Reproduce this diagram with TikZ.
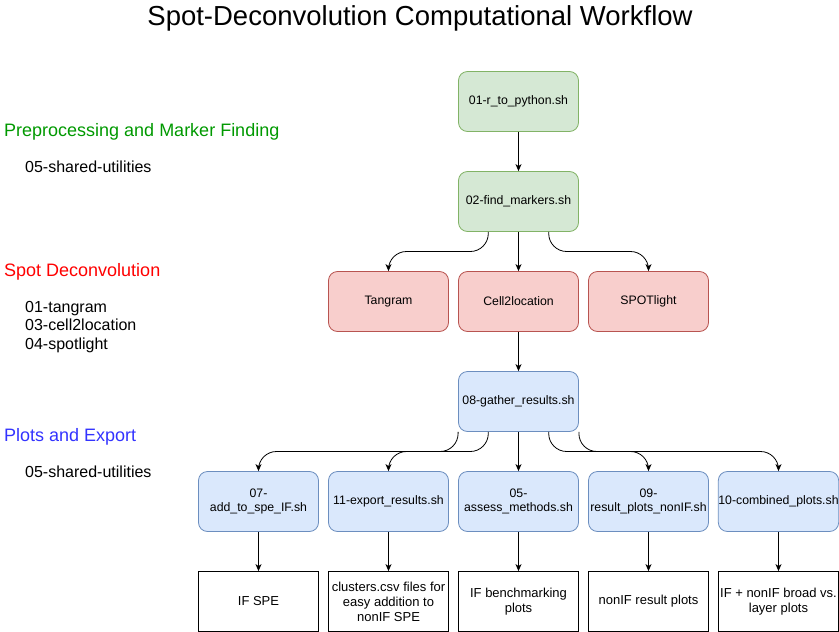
\documentclass[tikz,border=0pt]{standalone}
\usepackage{fontspec}
\setmainfont{Liberation Sans}
\usetikzlibrary{arrows.meta,calc}
\definecolor{gfill}{HTML}{D5E8D4}
\definecolor{gline}{HTML}{82B366}
\definecolor{rfill}{HTML}{F8CECC}
\definecolor{rline}{HTML}{B85450}
\definecolor{bfill}{HTML}{DAE8FC}
\definecolor{bline}{HTML}{6C8EBF}
\definecolor{gtext}{HTML}{009900}
\definecolor{rtext}{HTML}{FF0000}
\definecolor{btext}{HTML}{3333FF}
\begin{document}
\begin{tikzpicture}[x=1pt,y=-1pt,
  base/.style={minimum width=120pt,minimum height=60pt,inner sep=0pt,align=center,line width=0.8pt,
    font=\fontsize{12.3}{14.6}\selectfont},
  gbox/.style={base,draw=gline,fill=gfill,rounded corners=9pt},
  rbox/.style={base,draw=rline,fill=rfill,rounded corners=9pt},
  bbox/.style={base,draw=bline,fill=bfill,rounded corners=9pt},
  obox/.style={base,draw=black,fill=white,font=\fontsize{13}{15}\selectfont},
  conn/.style={line width=0.8pt,-{Stealth[length=7pt,width=6pt,inset=2pt]}},
  curv/.style={conn,rounded corners=18pt},
  sect/.style={anchor=west,inner sep=0pt,font=\fontsize{18}{21}\selectfont},
  sub/.style={anchor=west,inner sep=0pt,align=left,font=\fontsize{16}{18.5}\selectfont}]
\useasboundingbox (0,0) rectangle (839,632);

\node[font=\fontsize{27.5}{32}\selectfont] (title) at (420,18.5) {Spot-Deconvolution Computational Workflow};

\node[sect,text=gtext] (s1) at (4,131.5) {Preprocessing and Marker Finding};
\node[sub] (s1a) at (25,166.5) {05-shared-utilities};
\node[sect,text=rtext] (s2) at (4,271.5) {Spot Deconvolution};
\node[sub] (s2a) at (25,327) {01-tangram\\03-cell2location\\04-spotlight};
\node[sect,text=btext] (s3) at (4,436.5) {Plots and Export};
\node[sub] (s3a) at (25,471.5) {05-shared-utilities};

\node[gbox] (n01) at (518.5,101.5) {01-r\_to\_python.sh};
\node[gbox] (n02) at (518.5,201.5) {02-find\_markers.sh};
\node[rbox] (tan) at (388.5,301.5) {Tangram};
\node[rbox] (c2l) at (518.5,301.5) {Cell2location};
\node[rbox] (spo) at (648.5,301.5) {SPOTlight};
\node[bbox] (n08) at (518.5,401.5) {08-gather\_results.sh};
\node[bbox] (n07) at (258.5,501.5) {07-\\add\_to\_spe\_IF.sh};
\node[bbox] (n11) at (388.5,501.5) {11-export\_results.sh};
\node[bbox] (n05) at (518.5,501.5) {05-\\assess\_methods.sh};
\node[bbox] (n09) at (648.5,501.5) {09-\\result\_plots\_nonIF.sh};
\node[bbox] (n10) at (778.5,501.5) {10-combined\_plots.sh};
\node[obox] (o07) at (258.5,601.5) {IF SPE};
\node[obox] (o11) at (388.5,601.5) {clusters.csv files for\\easy addition to\\nonIF SPE};
\node[obox] (o05) at (518.5,601.5) {IF benchmarking\\plots};
\node[obox] (o09) at (648.5,601.5) {nonIF result plots};
\node[obox] (o10) at (778.5,601.5) {IF + nonIF broad vs.\\layer plots};

\draw[conn] (n01) -- (n02);
\draw[curv] ($(n02.south)!0.5!(n02.south west)$) |- ($(n02.south)!0.5!(tan.north)$) -| (tan.north);
\draw[conn] (n02) -- (c2l);
\draw[curv] ($(n02.south)!0.5!(n02.south east)$) |- ($(n02.south)!0.5!(spo.north)$) -| (spo.north);
\draw[conn] (c2l) -- (n08);
\draw[curv] (n08.south west) |- ($(n08.south)!0.5!(n07.north)$) -| (n07.north);
\draw[curv] ($(n08.south)!0.5!(n08.south west)$) |- ($(n08.south)!0.5!(n11.north)$) -| (n11.north);
\draw[conn] (n08) -- (n05);
\draw[curv] ($(n08.south)!0.5!(n08.south east)$) |- ($(n08.south)!0.5!(n09.north)$) -| (n09.north);
\draw[curv] (n08.south east) |- ($(n08.south)!0.5!(n10.north)$) -| (n10.north);
\draw[conn] (n07) -- (o07);
\draw[conn] (n11) -- (o11);
\draw[conn] (n05) -- (o05);
\draw[conn] (n09) -- (o09);
\draw[conn] (n10) -- (o10);
\end{tikzpicture}
\end{document}
